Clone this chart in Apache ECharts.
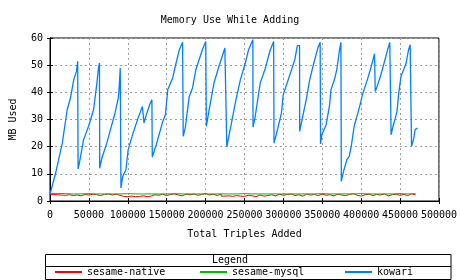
<!DOCTYPE html>
<html>
<head>
<meta charset="utf-8">
<script src="https://cdn.jsdelivr.net/npm/echarts@6/dist/echarts.min.js"></script>
<style>html,body{margin:0;padding:0;background:#fff}#c{width:460px;height:280px}</style>
</head>
<body>
<div id="c"></div>
<script>
var xTicks = [0, 50000, 100000, 150000, 200000, 250000, 300000, 350000, 400000, 450000, 500000];
var yTicks = [0, 10, 20, 30, 40, 50, 60];
var seriesNames = ['sesame-native', 'sesame-mysql', 'kowari'];

var nativeStep = 5000;
var nativeY = [2.4,2.3,2.2,2.1,2.3,2.0,2.2,1.9,2.4,2.2,2.5,2.3,2.0,2.4,2.6,2.2,2.5,2.1,
  1.7,1.6,1.8,1.6,1.7,1.9,1.6,1.8,
  2.3,2.1,2.5,2.0,2.4,2.6,2.2,1.9,2.5,2.3,2.6,2.1,2.4,2.8,2.2,2.5,2.0,2.6,
  1.8,1.9,1.7,2.0,1.8,1.7,2.1,1.9,1.6,2.2,1.8,2.0,
  2.3,1.9,2.5,2.1,2.4,2.6,2.0,2.3,1.8,2.5,2.2,2.4,2.0,2.6,2.1,2.3,1.9,2.5,2.2,2.0,2.4,2.7,2.1,1.8,2.3,2.5,2.0,2.4,2.2,2.6,1.9,2.3,2.5,2.1,2.4,2.0,2.6,2.3,2.5];

var mysqlStep = 10000;
var mysqlY = [2.8,2.7,2.6,2.6,2.7,2.6,2.6,2.6,2.6,2.7,2.6,2.6,2.6,2.6,2.6,2.7,2.6,2.6,2.6,2.6,2.6,2.6,2.6,2.6,2.7,2.6,2.6,2.6,2.6,2.6,2.6,2.6,2.6,2.6,2.7,2.6,2.6,2.6,2.6,2.7,2.6,2.6,2.6,2.6,2.7,2.6,2.7,2.8];

var kowariX = [0,7250,15800,22100,26300,30500,34000,35600,36100,37800,43200,49600,56000,60300,62300,63600,63900,
  66700,73000,79400,83600,87800,89000,90300,91200,93400,97600,100500,106800,113200,118800,120800,123900,128100,131000,
  131500,136600,145000,148400,151400,157700,162100,166300,170400,171300,173900,179000,183200,187500,195900,200200,
  201000,203500,210800,217100,221300,224800,226900,227300,229900,239100,244700,251100,255300,260800,
  261000,263800,270200,276500,282900,287500,288000,291300,297600,299800,306200,314700,318000,320800,
  321000,323100,329400,333800,339200,344300,347300,347800,349400,354900,359200,361200,365600,368900,371900,374000,
  374500,377400,381600,384700,387600,391000,395200,398600,401600,407900,413000,417200,418100,420600,424800,428300,431200,433400,436800,437800,
  438500,441000,443900,446100,448300,451200,454600,457900,460900,463000,464500,464800,467300,469400,472400];
var kowariY = [2.5,10.3,21.3,33.6,37.9,44.6,47.7,51.4,11.8,14,22.6,27.5,33.6,43.4,49,50.8,12.1,
  15.8,21.3,28,32.4,37.9,42.2,49,4.8,9,11.5,18.9,25,30.5,34.8,28.7,31.8,35.4,37.3,
  16.2,20.7,29.3,31.8,41,45.3,50.8,55.7,58.4,23.8,26.9,38.5,41.6,48.3,55.7,58.7,
  27.5,31.8,43.4,49.5,53.2,56.3,56.3,19.9,23.8,37.3,44.6,50.8,55.7,59.4,
  27.2,31.1,43.4,48.6,55.4,58.7,21.3,25,32.4,39.1,44.6,52,57.2,57.2,
  25.6,28.7,37.3,44.6,50.8,56.3,58.4,21,24.4,28,34.8,41,44.6,48.6,55.1,58.4,
  7.2,10.9,15.2,16.4,20.7,27.5,31.8,35.4,39.1,44.6,49.5,54.2,40.3,42.2,45.9,49.5,52.6,55.1,58.4,58.4,
  24.4,27.5,30.5,33,39.7,45.9,48.3,50.8,55.7,57.5,57.5,20.1,22.6,26.2,26.9];

var nativeData = nativeY.map(function (v, i) { return [i * nativeStep, v]; });
var mysqlData = mysqlY.map(function (v, i) { return [i * mysqlStep, v]; });
var kowariData = kowariX.map(function (x, i) { return [x, kowariY[i]]; });

var FONT = 'DejaVu Sans Mono';
var chart = echarts.init(document.getElementById('c'), null, {renderer: 'canvas'});
var gridLine = {show: true, lineStyle: {color: '#a0a0a0', type: [2, 3], width: 1}};
var legendText = {fontFamily: FONT, fontSize: 10, color: '#000'};
var option = {
  animation: false,
  backgroundColor: '#fff',
  textStyle: {fontFamily: FONT, color: '#000'},
  title: {text: 'Memory Use While Adding', left: 'center', top: 10,
    textStyle: {fontFamily: FONT, fontSize: 10, fontWeight: 'normal', color: '#000'}},
  grid: {left: 49, right: 18, top: 38, bottom: 79, show: true, borderColor: '#000', borderWidth: 1},
  legend: [
    {data: [seriesNames[0]], left: 50, top: 265, padding: [2, 5], itemWidth: 27, itemHeight: 2, icon: 'rect', textStyle: legendText},
    {data: [seriesNames[1]], left: 195, top: 265, padding: [2, 5], itemWidth: 27, itemHeight: 2, icon: 'rect', textStyle: legendText},
    {data: [seriesNames[2]], left: 340, top: 265, padding: [2, 5], itemWidth: 27, itemHeight: 2, icon: 'rect', textStyle: legendText}
  ],
  xAxis: [{
    type: 'value', min: xTicks[0], max: xTicks[xTicks.length - 1], interval: xTicks[1] - xTicks[0],
    name: 'Total Triples Added', nameLocation: 'middle', nameGap: 28,
    nameTextStyle: {fontFamily: FONT, fontSize: 10, color: '#000'},
    axisLine: {show: true, lineStyle: {color: '#000'}},
    axisTick: {show: true, inside: true, length: 3, lineStyle: {color: '#000'}},
    axisLabel: {fontFamily: FONT, fontSize: 10, color: '#000', margin: 9, formatter: function (v) { return String(v); }},
    splitLine: gridLine
  }, {
    type: 'value', position: 'top', min: xTicks[0], max: xTicks[xTicks.length - 1], interval: xTicks[1] - xTicks[0],
    axisLine: {show: true, lineStyle: {color: '#000'}},
    axisTick: {show: true, inside: true, length: 3, lineStyle: {color: '#000'}},
    axisLabel: {show: false}, splitLine: {show: false}
  }],
  yAxis: [{
    type: 'value', min: yTicks[0], max: yTicks[yTicks.length - 1], interval: yTicks[1] - yTicks[0],
    name: 'MB Used', nameLocation: 'middle', nameGap: 32, nameRotate: 90,
    nameTextStyle: {fontFamily: FONT, fontSize: 10, color: '#000'},
    axisLine: {show: true, lineStyle: {color: '#000'}},
    axisTick: {show: true, inside: true, length: 3, lineStyle: {color: '#000'}},
    axisLabel: {fontFamily: FONT, fontSize: 10, color: '#000', margin: 7},
    splitLine: gridLine
  }, {
    type: 'value', position: 'right', min: yTicks[0], max: yTicks[yTicks.length - 1], interval: yTicks[1] - yTicks[0],
    axisLine: {show: true, lineStyle: {color: '#000'}},
    axisTick: {show: true, inside: true, length: 3, lineStyle: {color: '#000'}},
    axisLabel: {show: false}, splitLine: {show: false}
  }],
  graphic: [
    {type: 'rect', shape: {x: 45.5, y: 254.5, width: 405.5, height: 25}, style: {fill: 'none', stroke: '#000', lineWidth: 1}, silent: true},
    {type: 'line', shape: {x1: 45.5, y1: 266.5, x2: 451, y2: 266.5}, style: {stroke: '#000', lineWidth: 1}, silent: true},
    {type: 'text', left: 'center', top: 255, style: {text: 'Legend', font: '10px "DejaVu Sans Mono"', fill: '#000'}}
  ],
  series: [
    {name: seriesNames[0], type: 'line', data: nativeData, step: 'end', showSymbol: false, symbol: 'none',
      lineStyle: {color: '#ff0000', width: 1}, itemStyle: {color: '#ff0000'}},
    {name: seriesNames[1], type: 'line', data: mysqlData, step: 'end', showSymbol: false, symbol: 'none',
      lineStyle: {color: '#00c000', width: 1}, itemStyle: {color: '#00c000'}},
    {name: seriesNames[2], type: 'line', data: kowariData, showSymbol: false, symbol: 'none',
      lineStyle: {color: '#0080ff', width: 1.3}, itemStyle: {color: '#0080ff'}}
  ]
};
chart.setOption(option);
</script>
</body>
</html>
